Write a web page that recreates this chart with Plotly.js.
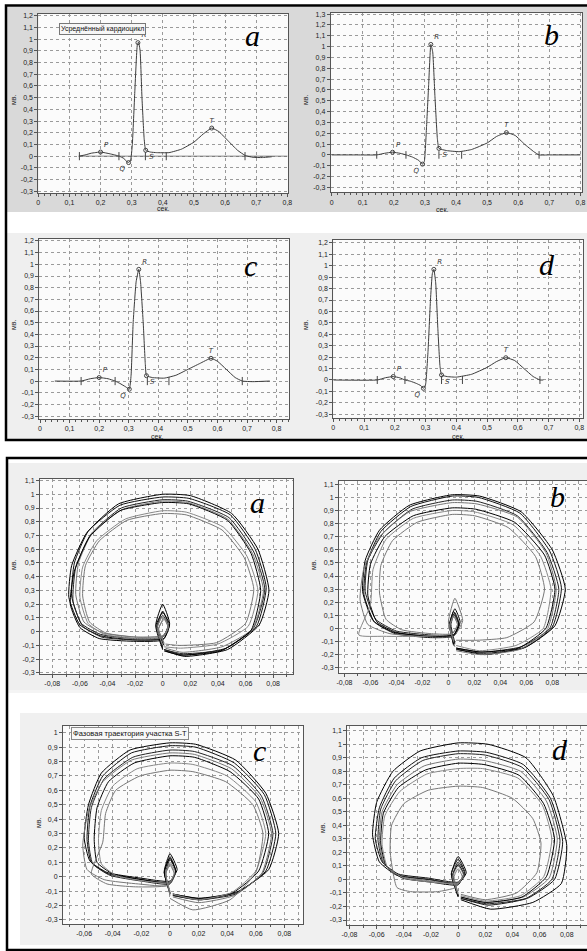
<!DOCTYPE html>
<html>
<head>
<meta charset="utf-8">
<script src="https://cdn.plot.ly/plotly-3.0.1.min.js"></script>
<style>html,body{margin:0;padding:0;background:#fff;}#chart{width:587px;height:951px;}</style>
</head>
<body>
<div id="chart"></div>
<script>
// ---------------- DATA ----------------
// ECG averaged cardiocycles (time, s ; amplitude, mV)
const ecgA_x = [0.13, 0.15, 0.17, 0.20, 0.23, 0.26, 0.275, 0.288, 0.296, 0.302, 0.310, 0.318, 0.322, 0.327, 0.333, 0.340, 0.345, 0.36, 0.38, 0.42, 0.46, 0.50, 0.53, 0.557, 0.58, 0.61, 0.64, 0.665, 0.69, 0.72, 0.75];
const ecgA_y = [0.00, 0.01, 0.025, 0.035, 0.02, 0.00, -0.02, -0.055, -0.04, 0.10, 0.55, 0.95, 0.975, 0.90, 0.50, 0.15, 0.05, 0.035, 0.03, 0.03, 0.06, 0.12, 0.19, 0.24, 0.21, 0.13, 0.05, 0.005, -0.01, -0.012, -0.005];
const ecgA_base = [0.13, 0.80];
const ecgA_marks = [0.132, 0.259, 0.344, 0.411, 0.664];
const ecgA_pts_x = [0.20, 0.29, 0.32, 0.345, 0.557];
const ecgA_pts_y = [0.035, -0.055, 0.97, 0.05, 0.24];

const ecgB_x = [0.00, 0.08, 0.145, 0.17, 0.196, 0.22, 0.24, 0.26, 0.28, 0.292, 0.298, 0.305, 0.312, 0.319, 0.325, 0.332, 0.34, 0.345, 0.37, 0.41, 0.45, 0.50, 0.53, 0.562, 0.59, 0.62, 0.65, 0.667, 0.70, 0.80];
const ecgB_y = [0.00, 0.00, 0.00, 0.015, 0.025, 0.015, 0.00, -0.02, -0.05, -0.085, -0.06, 0.25, 0.65, 1.02, 0.95, 0.55, 0.15, 0.06, 0.04, 0.03, 0.05, 0.11, 0.17, 0.206, 0.18, 0.10, 0.03, 0.00, 0.00, 0.00];
const ecgB_marks = [0.145, 0.239, 0.345, 0.418, 0.667];
const ecgB_pts_x = [0.196, 0.292, 0.319, 0.345, 0.562];
const ecgB_pts_y = [0.025, -0.085, 1.02, 0.06, 0.206];

const ecgC_x = [0.05, 0.139, 0.17, 0.20, 0.23, 0.254, 0.27, 0.29, 0.302, 0.308, 0.315, 0.325, 0.334, 0.340, 0.349, 0.356, 0.36, 0.38, 0.42, 0.46, 0.50, 0.54, 0.578, 0.60, 0.63, 0.66, 0.684, 0.72, 0.777];
const ecgC_y = [0.00, 0.00, 0.02, 0.03, 0.02, 0.00, -0.02, -0.05, -0.07, 0.05, 0.50, 0.85, 0.957, 0.85, 0.50, 0.15, 0.046, 0.03, 0.025, 0.05, 0.10, 0.15, 0.195, 0.17, 0.10, 0.03, 0.00, -0.005, 0.00];
const ecgC_marks = [0.139, 0.254, 0.363, 0.436, 0.684];
const ecgC_pts_x = [0.20, 0.302, 0.334, 0.36, 0.578];
const ecgC_pts_y = [0.03, -0.07, 0.957, 0.046, 0.195];

const ecgD_x = [0.00, 0.143, 0.17, 0.195, 0.215, 0.233, 0.25, 0.27, 0.285, 0.293, 0.30, 0.308, 0.316, 0.322, 0.327, 0.333, 0.34, 0.347, 0.352, 0.37, 0.40, 0.45, 0.50, 0.53, 0.561, 0.59, 0.62, 0.65, 0.672, 0.683];
const ecgD_y = [0.00, 0.00, 0.02, 0.03, 0.02, 0.00, -0.01, -0.03, -0.05, -0.073, -0.04, 0.25, 0.70, 0.93, 0.968, 0.85, 0.45, 0.12, 0.044, 0.03, 0.025, 0.05, 0.11, 0.16, 0.195, 0.17, 0.10, 0.03, 0.00, 0.00];
const ecgD_marks = [0.143, 0.233, 0.352, 0.42, 0.672];
const ecgD_pts_x = [0.195, 0.293, 0.327, 0.352, 0.561];
const ecgD_pts_y = [0.03, -0.073, 0.968, 0.044, 0.195];

const waveNames = ['P', 'Q', 'R', 'S', 'T'];

// Phase trajectories of the S-T segment (derivative ; mV), one row per cycle
const phaseA_x = [
 [0.001,-0.005,0.000,0.005,0.001,-0.020,-0.045,-0.060,-0.068,-0.066,-0.055,-0.032,0.000,0.020,0.050,0.069,0.077,0.070,0.047,0.016,0.002],
 [0.000,-0.004,0.000,0.004,0.000,-0.020,-0.045,-0.059,-0.066,-0.064,-0.054,-0.031,0.000,0.019,0.049,0.067,0.075,0.068,0.046,0.015,0.001],
 [0.000,-0.004,0.000,0.004,-0.001,-0.020,-0.044,-0.058,-0.065,-0.063,-0.052,-0.030,0.000,0.018,0.048,0.066,0.074,0.066,0.044,0.014,0.001],
 [0.001,-0.003,0.001,0.004,0.000,-0.019,-0.043,-0.057,-0.063,-0.061,-0.051,-0.029,0.000,0.018,0.047,0.065,0.073,0.065,0.043,0.014,0.002],
 [0.000,-0.005,0.000,0.005,0.000,-0.021,-0.046,-0.060,-0.067,-0.064,-0.053,-0.031,0.000,0.019,0.047,0.064,0.071,0.064,0.042,0.013,0.001],
 [0.000,-0.004,0.000,0.004,0.000,-0.019,-0.042,-0.054,-0.060,-0.058,-0.048,-0.027,0.000,0.017,0.044,0.061,0.069,0.062,0.040,0.013,0.001],
 [0.001,-0.003,0.001,0.004,0.001,-0.018,-0.041,-0.053,-0.058,-0.056,-0.046,-0.026,0.000,0.017,0.043,0.059,0.066,0.060,0.039,0.012,0.002]
];
const phaseA_y = [
 [-0.10,0.05,0.20,0.06,-0.05,-0.06,-0.03,0.05,0.25,0.48,0.72,0.93,1.00,0.99,0.86,0.60,0.30,0.05,-0.13,-0.18,-0.14],
 [-0.11,0.04,0.15,0.05,-0.04,-0.05,-0.02,0.06,0.26,0.50,0.73,0.92,0.98,0.97,0.85,0.60,0.32,0.04,-0.12,-0.17,-0.13],
 [-0.12,0.03,0.12,0.04,-0.05,-0.06,-0.04,0.04,0.22,0.47,0.71,0.90,0.96,0.95,0.83,0.58,0.31,0.03,-0.13,-0.16,-0.13],
 [-0.09,0.02,0.10,0.03,-0.03,-0.04,-0.01,0.07,0.27,0.50,0.72,0.89,0.95,0.94,0.82,0.57,0.30,0.02,-0.11,-0.15,-0.12],
 [-0.13,0.04,0.14,0.05,-0.06,-0.07,-0.05,0.03,0.20,0.44,0.69,0.88,0.94,0.93,0.81,0.57,0.30,0.01,-0.14,-0.17,-0.14],
 [-0.10,0.03,0.11,0.04,-0.04,-0.05,-0.02,0.06,0.25,0.47,0.66,0.82,0.88,0.87,0.76,0.55,0.30,0.04,-0.09,-0.12,-0.11],
 [-0.08,0.02,0.09,0.03,-0.03,-0.04,-0.01,0.07,0.26,0.48,0.66,0.81,0.86,0.85,0.74,0.54,0.31,0.06,-0.08,-0.10,-0.09]
];

const phaseB_x = [
 [0.005,0.001,0.005,0.009,0.005,-0.014,-0.042,-0.058,-0.066,-0.064,-0.053,-0.030,0.003,0.024,0.056,0.080,0.090,0.082,0.060,0.028,0.007],
 [0.004,0.001,0.004,0.008,0.004,-0.014,-0.041,-0.057,-0.065,-0.063,-0.052,-0.029,0.003,0.023,0.055,0.078,0.087,0.080,0.058,0.027,0.006],
 [0.005,0.002,0.005,0.008,0.004,-0.013,-0.040,-0.056,-0.064,-0.062,-0.050,-0.028,0.003,0.022,0.053,0.076,0.085,0.078,0.056,0.026,0.006],
 [0.005,0.000,0.005,0.011,0.004,-0.015,-0.045,-0.062,-0.068,-0.065,-0.053,-0.030,0.003,0.022,0.053,0.075,0.083,0.076,0.055,0.025,0.006],
 [0.004,0.001,0.004,0.008,0.004,-0.014,-0.040,-0.055,-0.062,-0.060,-0.049,-0.027,0.003,0.021,0.051,0.074,0.082,0.075,0.054,0.025,0.006],
 [0.004,0.001,0.004,0.007,0.003,-0.020,-0.050,-0.069,-0.060,-0.058,-0.048,-0.027,0.003,0.020,0.050,0.071,0.079,0.073,0.052,0.024,0.006],
 [0.004,0.001,0.004,0.007,0.003,-0.013,-0.036,-0.048,-0.053,-0.052,-0.043,-0.024,0.003,0.020,0.046,0.067,0.074,0.066,0.045,0.022,0.006]
];
const phaseB_y = [
 [-0.12,0.04,0.15,0.05,-0.05,-0.06,-0.03,0.06,0.28,0.52,0.75,0.94,1.02,1.01,0.89,0.60,0.30,0.02,-0.14,-0.20,-0.16],
 [-0.13,0.03,0.13,0.04,-0.06,-0.07,-0.04,0.05,0.26,0.50,0.74,0.93,1.01,1.00,0.88,0.59,0.31,0.01,-0.15,-0.19,-0.16],
 [-0.11,0.03,0.12,0.04,-0.05,-0.05,-0.02,0.07,0.28,0.52,0.73,0.91,0.98,0.97,0.86,0.58,0.30,0.00,-0.14,-0.18,-0.15],
 [-0.14,0.05,0.23,0.06,-0.06,-0.06,-0.04,0.03,0.22,0.46,0.70,0.89,0.96,0.95,0.85,0.58,0.30,-0.01,-0.16,-0.20,-0.17],
 [-0.12,0.02,0.11,0.03,-0.05,-0.06,-0.03,0.05,0.25,0.49,0.70,0.86,0.92,0.91,0.81,0.56,0.30,0.00,-0.15,-0.18,-0.15],
 [-0.10,0.02,0.10,0.03,-0.04,-0.06,-0.06,-0.05,0.18,0.45,0.68,0.84,0.90,0.89,0.79,0.55,0.30,0.00,-0.13,-0.17,-0.13],
 [-0.09,0.02,0.09,0.03,-0.04,-0.04,-0.01,0.07,0.27,0.48,0.67,0.81,0.87,0.86,0.77,0.55,0.30,0.05,-0.07,-0.09,-0.09]
];

const phaseC_x = [
 [0.000,-0.004,0.000,0.005,0.000,-0.020,-0.044,-0.056,-0.060,-0.057,-0.048,-0.028,0.000,0.018,0.046,0.067,0.076,0.069,0.048,0.022,0.002],
 [0.000,-0.004,0.000,0.004,0.000,-0.020,-0.043,-0.055,-0.058,-0.056,-0.047,-0.027,0.000,0.018,0.045,0.066,0.074,0.067,0.047,0.021,0.002],
 [0.000,-0.003,0.000,0.004,0.000,-0.020,-0.042,-0.054,-0.057,-0.055,-0.046,-0.026,0.000,0.017,0.044,0.064,0.072,0.065,0.046,0.020,0.002],
 [0.000,-0.003,0.000,0.004,-0.001,-0.022,-0.046,-0.058,-0.061,-0.057,-0.047,-0.027,0.000,0.017,0.043,0.063,0.071,0.064,0.045,0.020,0.002],
 [0.000,-0.004,0.000,0.004,0.000,-0.019,-0.040,-0.051,-0.053,-0.051,-0.043,-0.025,0.000,0.017,0.042,0.062,0.069,0.062,0.044,0.020,0.002],
 [0.000,-0.003,0.000,0.003,0.000,-0.018,-0.038,-0.048,-0.050,-0.048,-0.040,-0.023,0.000,0.016,0.040,0.060,0.067,0.060,0.043,0.020,0.002],
 [0.000,-0.003,0.000,0.003,-0.002,-0.024,-0.044,-0.055,-0.047,-0.045,-0.038,-0.021,0.000,0.016,0.039,0.058,0.065,0.060,0.042,0.016,0.000]
];
const phaseC_y = [
 [-0.12,0.04,0.16,0.05,-0.03,-0.01,0.03,0.11,0.27,0.50,0.72,0.88,0.93,0.92,0.81,0.58,0.30,0.05,-0.10,-0.16,-0.13],
 [-0.11,0.03,0.14,0.04,-0.04,-0.02,0.02,0.10,0.26,0.49,0.70,0.86,0.91,0.90,0.79,0.57,0.30,0.04,-0.11,-0.15,-0.12],
 [-0.12,0.03,0.12,0.04,-0.05,-0.03,0.01,0.09,0.25,0.48,0.68,0.83,0.88,0.87,0.77,0.56,0.30,0.03,-0.12,-0.16,-0.13],
 [-0.13,0.02,0.10,0.03,-0.06,-0.05,-0.02,0.05,0.22,0.46,0.66,0.81,0.86,0.85,0.75,0.55,0.30,0.02,-0.13,-0.18,-0.14],
 [-0.11,0.03,0.13,0.04,-0.04,-0.02,0.02,0.10,0.26,0.48,0.66,0.79,0.84,0.83,0.73,0.54,0.30,0.04,-0.11,-0.15,-0.12],
 [-0.10,0.02,0.09,0.03,-0.04,-0.03,0.01,0.09,0.25,0.46,0.63,0.75,0.79,0.78,0.70,0.52,0.30,0.04,-0.11,-0.16,-0.12],
 [-0.12,0.02,0.08,0.02,-0.06,-0.07,-0.05,0.02,0.24,0.44,0.60,0.70,0.74,0.73,0.66,0.50,0.30,0.03,-0.16,-0.23,-0.15]
];

const phaseD_x = [
 [0.000,-0.005,0.000,0.006,0.000,-0.022,-0.045,-0.058,-0.063,-0.060,-0.048,-0.028,0.000,0.022,0.050,0.070,0.080,0.076,0.055,0.024,0.002],
 [0.000,-0.005,0.000,0.005,0.000,-0.022,-0.044,-0.056,-0.061,-0.058,-0.047,-0.027,0.000,0.021,0.048,0.068,0.077,0.071,0.051,0.022,0.002],
 [0.000,-0.004,0.000,0.005,0.000,-0.021,-0.043,-0.055,-0.059,-0.057,-0.046,-0.026,0.000,0.020,0.047,0.067,0.075,0.069,0.050,0.021,0.002],
 [0.000,-0.004,0.000,0.004,0.000,-0.021,-0.042,-0.054,-0.058,-0.056,-0.045,-0.025,0.000,0.019,0.046,0.065,0.073,0.067,0.048,0.021,0.002],
 [0.000,-0.004,0.000,0.004,0.000,-0.020,-0.041,-0.053,-0.057,-0.055,-0.044,-0.024,0.000,0.019,0.045,0.063,0.071,0.065,0.047,0.020,0.002],
 [0.000,-0.004,0.000,0.004,0.000,-0.020,-0.040,-0.052,-0.056,-0.054,-0.043,-0.023,0.000,0.018,0.044,0.062,0.069,0.063,0.046,0.020,0.002],
 [0.000,-0.003,0.000,0.003,-0.002,-0.015,-0.035,-0.045,-0.050,-0.049,-0.040,-0.022,0.000,0.018,0.040,0.055,0.061,0.058,0.043,0.020,0.002]
];
const phaseD_y = [
 [-0.13,0.04,0.17,0.05,-0.03,0.00,0.03,0.13,0.33,0.57,0.80,0.95,1.01,1.00,0.90,0.62,0.25,-0.03,-0.17,-0.22,-0.15],
 [-0.12,0.04,0.15,0.05,-0.02,0.01,0.04,0.13,0.30,0.53,0.75,0.90,0.95,0.94,0.85,0.60,0.28,0.00,-0.14,-0.19,-0.14],
 [-0.12,0.03,0.13,0.04,-0.03,0.00,0.03,0.12,0.29,0.52,0.73,0.88,0.93,0.92,0.83,0.59,0.29,0.00,-0.14,-0.18,-0.14],
 [-0.11,0.03,0.12,0.04,-0.03,-0.01,0.02,0.11,0.28,0.50,0.70,0.84,0.89,0.88,0.80,0.58,0.30,0.01,-0.13,-0.17,-0.13],
 [-0.12,0.03,0.11,0.04,-0.04,-0.02,0.01,0.10,0.27,0.49,0.68,0.81,0.86,0.85,0.77,0.56,0.30,0.02,-0.13,-0.17,-0.13],
 [-0.11,0.02,0.10,0.03,-0.03,-0.02,0.01,0.09,0.26,0.47,0.65,0.78,0.82,0.82,0.75,0.55,0.30,0.02,-0.12,-0.16,-0.12],
 [-0.10,0.02,0.08,0.02,-0.06,-0.09,-0.09,-0.06,0.20,0.40,0.56,0.66,0.69,0.68,0.60,0.45,0.27,0.05,-0.10,-0.15,-0.11]
];

// Tick values and labels
const ecgXTicks = [0, 0.1, 0.2, 0.3, 0.4, 0.5, 0.6, 0.7, 0.8];
const ecgXText  = ['0', '0,1', '0,2', '0,3', '0,4', '0,5', '0,6', '0,7', '0,8'];
const ecgYTicks = [-0.3, -0.2, -0.1, 0, 0.1, 0.2, 0.3, 0.4, 0.5, 0.6, 0.7, 0.8, 0.9, 1, 1.1, 1.2, 1.3];
const ecgYText  = ['-0,3', '-0,2', '-0,1', '0', '0,1', '0,2', '0,3', '0,4', '0,5', '0,6', '0,7', '0,8', '0,9', '1', '1,1', '1,2', '1,3'];
const phaseXTicks = [-0.08, -0.06, -0.04, -0.02, 0, 0.02, 0.04, 0.06, 0.08];
const phaseXText  = ['-0,08', '-0,06', '-0,04', '-0,02', '0', '0,02', '0,04', '0,06', '0,08'];
const phaseYTicks = [-0.3, -0.2, -0.1, 0, 0.1, 0.2, 0.3, 0.4, 0.5, 0.6, 0.7, 0.8, 0.9, 1, 1.1];
const phaseYText  = ['-0,3', '-0,2', '-0,1', '0', '0,1', '0,2', '0,3', '0,4', '0,5', '0,6', '0,7', '0,8', '0,9', '1', '1,1'];

const panelLetters = ['a', 'b', 'c', 'd'];
const ecgBoxText = 'Усреднённый кардиоцикл';
const phaseBoxText = 'Фазовая траектория участка S-T';
const xTitle = 'сек.';
const yTitle = 'мв.';

// ---------------- LAYOUT / STYLE ----------------
const W = 587, H = 951;
function dx(L, R) { return [Math.max(0, L / W), Math.min(1, R / W)]; }
function dy(T, B) { return [Math.max(0, 1 - B / H), Math.min(1, 1 - T / H)]; }
function px(x) { return x / W; }
function py(y) { return 1 - y / H; }

// pixel boxes [left, right, top, bottom] and ranges
const boxes = [
  {L: 38.3, R: 288.3, T: 14, B: 193, xr: [0, 0.803], yr: [-0.315, 1.215]},
  {L: 330.7, R: 582.3, T: 13, B: 192.3, xr: [-0.003, 0.806], yr: [-0.345, 1.31]},
  {L: 39.3, R: 289, T: 239, B: 419, xr: [-0.0024, 0.842], yr: [-0.325, 1.217]},
  {L: 333.3, R: 583.3, T: 240, B: 417.7, xr: [0, 0.813], yr: [-0.33, 1.225]},
  {L: 40, R: 293, T: 479, B: 674, xr: [-0.0889, 0.0944], yr: [-0.308, 1.111]},
  {L: 339, R: 587, T: 481, B: 673, xr: [-0.0842, 0.1067], yr: [-0.34, 1.125]},
  {L: 63, R: 303, T: 726, B: 924, xr: [-0.0748, 0.093], yr: [-0.328, 1.047]},
  {L: 347.3, R: 587, T: 726, B: 925, xr: [-0.0816, 0.0949], yr: [-0.337, 1.135]}
];

const tickFont = {family: 'Liberation Sans, Arial, sans-serif', size: 7, color: '#222'};
const gridC = '#9a9a9a';
const layout = {
  width: W, height: H, autosize: false,
  margin: {l: 0, r: 0, t: 0, b: 0, pad: 0},
  paper_bgcolor: '#ffffff', plot_bgcolor: 'rgba(0,0,0,0)',
  showlegend: false,
  shapes: [], annotations: []
};

boxes.forEach((b, i) => {
  const n = i + 1, sx = n === 1 ? '' : String(n);
  const isEcg = i < 4;
  const yT = isEcg ? ecgYTicks : phaseYTicks;
  const yTx = isEcg ? ecgYText : phaseYText;
  const common = {
    showline: true, mirror: true, linecolor: '#555', linewidth: 1,
    ticks: 'outside', ticklen: 3, tickcolor: '#555', tickwidth: 1,
    tickfont: tickFont, showgrid: true, gridcolor: gridC, griddash: 'dot', gridwidth: 1,
    zeroline: false, tickmode: 'array', fixedrange: true
  };
  layout['xaxis' + sx] = Object.assign({}, common, {
    domain: dx(b.L, b.R), range: b.xr, anchor: 'y' + sx,
    tickvals: isEcg ? ecgXTicks : phaseXTicks,
    ticktext: isEcg ? ecgXText : phaseXText,
    minor: isEcg
      ? {tickmode: 'linear', tick0: 0, dtick: 0.02, ticks: 'outside', ticklen: 2, tickcolor: '#555', showgrid: false}
      : {tickmode: 'linear', tick0: 0, dtick: 0.01, ticks: 'outside', ticklen: 2, tickcolor: '#555', showgrid: true, griddash: 'dot', gridcolor: gridC, gridwidth: 1}
  });
  layout['yaxis' + sx] = Object.assign({}, common, {
    domain: dy(b.T, b.B), range: b.yr, anchor: 'x' + sx,
    tickvals: yT, ticktext: yTx
  });
  layout.shapes.push({type: 'rect', xref: 'x' + sx + ' domain', yref: 'y' + sx + ' domain',
    x0: 0, x1: 1, y0: 0, y1: 1, layer: 'below', fillcolor: '#fbfbfb', line: {width: 0}});
});

function prect(x0, x1, y0, y1, fill) {
  return {type: 'rect', xref: 'paper', yref: 'paper', x0: px(x0), x1: px(x1), y0: py(y1), y1: py(y0),
    layer: 'below', fillcolor: fill, line: {width: 0}};
}
layout.shapes.unshift(
  prect(7, 587, 7, 212, '#d9d9d9'),
  prect(7, 587, 233, 439, '#efefef'),
  prect(8, 587, 463, 690, '#efefef'),
  prect(8, 587, 690, 693, '#f4f4f4'),
  prect(20, 587, 713, 945, '#f0f0f0')
);
layout.shapes.push(
  {type: 'rect', xref: 'paper', yref: 'paper', x0: px(6), x1: px(600), y0: py(440), y1: py(5.5), layer: 'above', line: {color: '#000', width: 2.5}, fillcolor: 'rgba(0,0,0,0)'},
  {type: 'rect', xref: 'paper', yref: 'paper', x0: px(7), x1: px(600), y0: py(950), y1: py(458), layer: 'above', line: {color: '#000', width: 2.5}, fillcolor: 'rgba(0,0,0,0)'}
);

const titleFont = {family: 'Liberation Sans, Arial, sans-serif', size: 7, color: '#222'};
function ann(x, y, text, font, extra) {
  return Object.assign({xref: 'paper', yref: 'paper', x: px(x), y: py(y), text: text, showarrow: false,
    font: font, xanchor: 'center', yanchor: 'middle'}, extra || {});
}
const yTitlePos = [[13, 100], [305, 100], [13, 325], [305, 325], [13, 565], [313, 565], [38, 823], [322, 828]];
const xTitlePos = [[163, 209], [442, 210], [157, 436], [458, 436]];
yTitlePos.forEach(p => layout.annotations.push(ann(p[0], p[1], yTitle, titleFont, {textangle: -90})));
xTitlePos.forEach(p => layout.annotations.push(ann(p[0], p[1], xTitle, titleFont)));
const letterFont = {family: 'Liberation Serif, Times New Roman, serif', size: 30, color: '#000', style: 'italic'};
const letterPos = [[252, 36], [551, 35], [250, 265], [547, 264], [257, 502], [557, 496], [259, 750], [560, 749]];
letterPos.forEach((p, i) => layout.annotations.push(ann(p[0], p[1], panelLetters[i % 4], letterFont)));
layout.annotations.push(ann(102, 28.5, ecgBoxText, {family: 'Liberation Sans, Arial, sans-serif', size: 7, color: '#111'},
  {bgcolor: '#f6f6f6', bordercolor: '#777', borderwidth: 1, borderpad: 1}));
layout.annotations.push(ann(130, 733.5, phaseBoxText, {family: 'Liberation Sans, Arial, sans-serif', size: 7.5, color: '#111'},
  {bgcolor: '#f8f8f8', bordercolor: '#888', borderwidth: 1, borderpad: 1}));

// ---------------- TRACES ----------------
const traces = [];
const ecgLine = {color: '#3c3c3c', width: 1};
const ecgSets = [
  {x: ecgA_x, y: ecgA_y, m: ecgA_marks, px: ecgA_pts_x, py: ecgA_pts_y, base: ecgA_base},
  {x: ecgB_x, y: ecgB_y, m: ecgB_marks, px: ecgB_pts_x, py: ecgB_pts_y},
  {x: ecgC_x, y: ecgC_y, m: ecgC_marks, px: ecgC_pts_x, py: ecgC_pts_y},
  {x: ecgD_x, y: ecgD_y, m: ecgD_marks, px: ecgD_pts_x, py: ecgD_pts_y}
];
const labelPos = ['top right', 'bottom left', 'top right', 'bottom right', 'top center'];
ecgSets.forEach((s, i) => {
  const sx = i === 0 ? '' : String(i + 1);
  const xa = 'x' + sx, ya = 'y' + sx;
  if (s.base) {
    traces.push({type: 'scatter', mode: 'lines', x: s.base, y: s.base.map(() => 0), xaxis: xa, yaxis: ya,
      line: {color: '#666', width: 0.8}, hoverinfo: 'skip'});
  }
  traces.push({type: 'scatter', mode: 'lines', x: s.x, y: s.y, xaxis: xa, yaxis: ya,
    line: Object.assign({shape: 'spline', smoothing: 0.4}, ecgLine), hoverinfo: 'skip'});
  const mx = [], my = [];
  s.m.forEach(v => { mx.push(v, v, null); my.push(-0.035, 0.035, null); });
  traces.push({type: 'scatter', mode: 'lines', x: mx, y: my, xaxis: xa, yaxis: ya,
    line: {color: '#444', width: 1}, hoverinfo: 'skip'});
  traces.push({type: 'scatter', mode: 'markers+text', x: s.px, y: s.py, xaxis: xa, yaxis: ya,
    text: waveNames, textposition: labelPos,
    textfont: {family: 'DejaVu Sans, sans-serif', size: 7, color: '#333333', style: 'italic'},
    marker: {symbol: 'circle-open', size: 4, color: '#444', line: {width: 1}}, hoverinfo: 'skip'});
});

const phaseSets = [[phaseA_x, phaseA_y], [phaseB_x, phaseB_y], [phaseC_x, phaseC_y], [phaseD_x, phaseD_y]];
const loopTone = ['#000', '#111', '#222', '#777', '#000', '#888', '#777'];
phaseSets.forEach((s, i) => {
  const sx = String(i + 5);
  s[0].forEach((lx, k) => {
    traces.push({type: 'scatter', mode: 'lines', x: lx, y: s[1][k], xaxis: 'x' + sx, yaxis: 'y' + sx,
      line: {color: loopTone[k % loopTone.length], width: 1, shape: 'spline', smoothing: 0.5}, hoverinfo: 'skip'});
  });
});

Plotly.newPlot('chart', traces, layout, {staticPlot: true, displayModeBar: false});
</script>
</body>
</html>
